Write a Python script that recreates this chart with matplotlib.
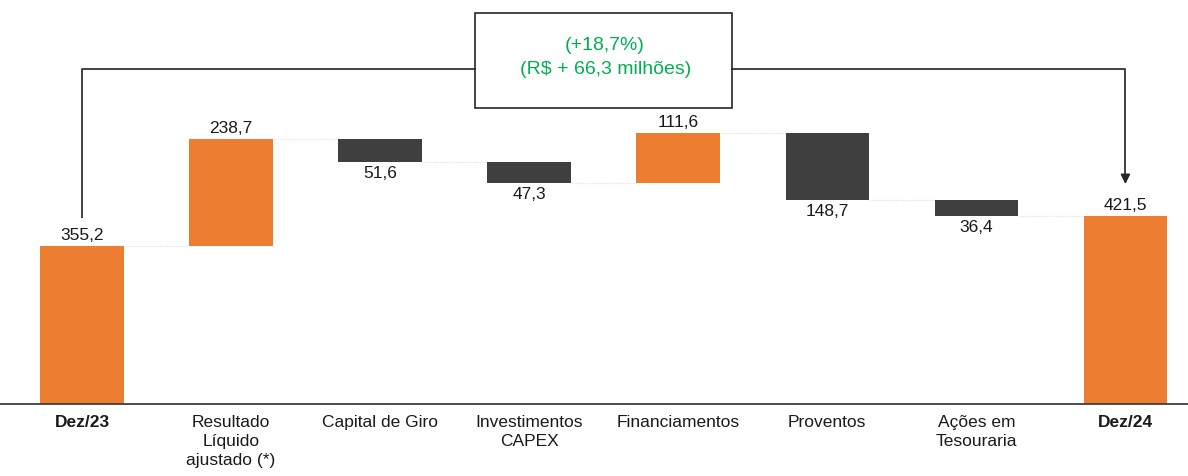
import matplotlib

matplotlib.use("Agg")
import matplotlib.pyplot as plt
from matplotlib.patches import Rectangle

plt.rcParams["font.family"] = ["Liberation Sans", "DejaVu Sans"]

categories = ["Dez/23", "Resultado\nLíquido\najustado (*)", "Capital de Giro",
              "Investimentos\nCAPEX", "Financiamentos", "Proventos",
              "Ações em\nTesouraria", "Dez/24"]
changes = [355.2, 238.7, -51.6, -47.3, 111.6, -148.7, -36.4]
final_value = 421.5
value_labels = ["355,2", "238,7", "51,6", "47,3", "111,6", "148,7", "36,4", "421,5"]
note_lines = ["(+18,7%)", "(R$ + 66,3 milhões)"]

ORANGE = "#ED7D31"
DARK = "#3F3F3F"
GREEN = "#00B050"

# waterfall bottoms/heights
bottoms, heights, colors = [], [], []
running = 0.0
for i, v in enumerate(changes):
    if i == 0:
        bottoms.append(0.0)
        heights.append(v)
        colors.append(ORANGE)
        running = v
        continue
    if v >= 0:
        bottoms.append(running)
        heights.append(v)
        colors.append(ORANGE)
    else:
        bottoms.append(running + v)
        heights.append(-v)
        colors.append(DARK)
    running += v
bottoms.append(0.0)
heights.append(final_value)
colors.append(ORANGE)

fig = plt.figure(figsize=(11.88, 4.77), dpi=100)
ax = fig.add_axes([0, 72 / 477, 1, 405 / 477])
x = list(range(len(categories)))
ax.bar(x, heights, bottom=bottoms, width=0.56, color=colors, zorder=2)
ax.set_xlim(-0.55, 7.42)
ax.set_ylim(0, 908)

# faint connectors between bars
for i in range(len(categories) - 1):
    top = bottoms[i] + heights[i] if (i == 0 or changes[i] >= 0) else bottoms[i]
    ax.plot([i + 0.28, i + 1 - 0.28], [top, top], color="#e3e3e3", lw=0.8,
            ls=(0, (1, 1)), zorder=1)

# value labels
for i in range(len(categories)):
    top = bottoms[i] + heights[i]
    if i == 0 or i == len(categories) - 1 or changes[i] >= 0:
        ax.text(i, top + 9, value_labels[i], ha="center", va="bottom", fontsize=12.5, color="#1a1a1a")
    else:
        ax.text(i, bottoms[i] - 7, value_labels[i], ha="center", va="top", fontsize=12.5, color="#1a1a1a")

for s in ["top", "right", "left"]:
    ax.spines[s].set_visible(False)
ax.spines["bottom"].set_color("#404040")
ax.spines["bottom"].set_linewidth(1.3)
ax.set_yticks([])
ax.set_xticks(x)
ax.set_xticklabels(categories, fontsize=12.5, color="#1a1a1a", linespacing=1.35)
ax.tick_params(axis="x", length=0, pad=7)
for idx in (0, len(categories) - 1):
    ax.get_xticklabels()[idx].set_fontweight("bold")

# bracket with change note
line_kw = dict(color="#404040", lw=1.4, clip_on=False, zorder=3)
box_left, box_right = 2.64, 4.36
bracket_y = 751
ax.plot([0, 0, box_left], [419, bracket_y, bracket_y], **line_kw)
ax.plot([box_right, 7, 7], [bracket_y, bracket_y, 505], **line_kw)
ax.annotate("", xy=(7, 487), xytext=(7, 515),
            arrowprops=dict(arrowstyle="-|>", color="#262626", lw=1.2, mutation_scale=14),
            annotation_clip=False)
ax.add_patch(Rectangle((box_left, 664), box_right - box_left, 213, fill=False,
                       ec="#262626", lw=1.2, clip_on=False, zorder=3))
ax.text(3.51, 807, note_lines[0], ha="center", va="center", fontsize=14, color=GREEN)
ax.text(3.51, 753, note_lines[1], ha="center", va="center", fontsize=14, color=GREEN)

fig.savefig("out.png", dpi=100)
